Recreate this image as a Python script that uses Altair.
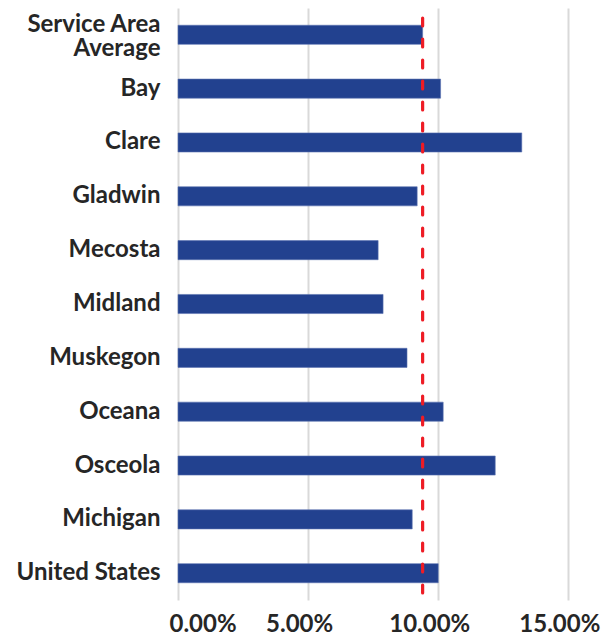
import altair as alt
import pandas as pd

categories = ["Service Area Average", "Bay", "Clare", "Gladwin", "Mecosta", "Midland",
              "Muskegon", "Oceana", "Osceola", "Michigan", "United States"]
values = [0.0940, 0.1009, 0.1321, 0.0919, 0.0769, 0.0788, 0.0880, 0.1019, 0.1219, 0.0900, 0.1000]
average_line = [0.0940]
x_ticks = [0, 0.05, 0.10, 0.15]

df = pd.DataFrame({"cat": categories, "val": values})
avg_df = pd.DataFrame({"avg": average_line})

FONT = "Lato"
TEXT = "#262626"

x_scale = alt.Scale(domain=[0, 0.166], nice=False, zero=True)
x_axis = alt.Axis(values=x_ticks, format=".2%", title=None, domain=False, ticks=False,
                  grid=True, gridColor="#d9d9d9", gridWidth=2,
                  labelFont=FONT, labelFontSize=24, labelFontWeight="bold",
                  labelColor=TEXT, labelPadding=12, labelOffset=-9)

bars = alt.Chart(df).mark_bar(color="#22418f", stroke="#5a72b0", strokeWidth=0.6).encode(
    x=alt.X("val:Q", scale=x_scale, axis=x_axis),
    y=alt.Y("cat:N", sort=categories,
            scale=alt.Scale(paddingInner=0.645, paddingOuter=0.32),
            axis=alt.Axis(title=None, domain=False, ticks=False, grid=False,
                          labelFont=FONT, labelFontSize=24, labelFontWeight="bold",
                          labelColor=TEXT, labelPadding=18, labelLineHeight=24,
                          labelLimit=300,
                          labelOffset={"condition": {"test": "datum.label == 'Service Area Average'", "value": -10}, "value": 0},
                          labelExpr="datum.label == 'Service Area Average' ? ['Service Area', 'Average'] : datum.label")),
)

rule = alt.Chart(avg_df).mark_rule(color="#ee1c25", strokeWidth=3.2, strokeDash=[8, 13], strokeCap="round").encode(
    x=alt.X("avg:Q", scale=x_scale, axis=x_axis),
    y=alt.value(10),
    y2=alt.value(592),
)

chart = alt.layer(bars, rule).properties(
    width=432, height=592,
    background="white",
    autosize=alt.AutoSizeParams(type="none"),
    padding={"left": 178, "top": 8, "right": 6, "bottom": 39},
).configure_view(strokeWidth=0, stroke="transparent")

chart.save("out.html", embed_options={"renderer": "svg", "actions": False})
